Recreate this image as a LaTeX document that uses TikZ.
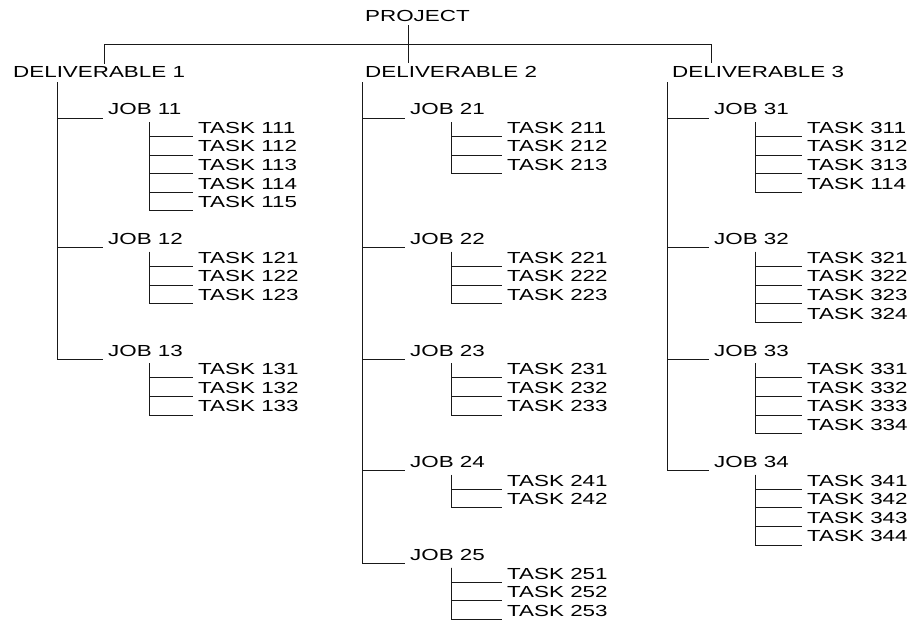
\documentclass[tikz,border=0pt]{standalone}
\usepackage{fontspec}
\usepackage{tikz}
\usetikzlibrary{calc}
\newfontfamily\wbsfont[FakeStretch=1.4]{Liberation Sans}

\begin{document}
\begin{tikzpicture}[x=1pt,y=-1pt,
lbl/.style={anchor=south west,inner xsep=5pt,inner ysep=3pt,text depth=0pt,font=\wbsfont\fontsize{16}{16}\selectfont},
wire/.style={line width=1pt,draw=black!90}
]
\useasboundingbox (0,0) rectangle (912,619);
% top level
\node[lbl] (proj) at (360,25) {PROJECT};
\node[lbl] (d1) at (8,81) {DELIVERABLE 1};
\node[lbl] (d2) at (360,81) {DELIVERABLE 2};
\node[lbl] (d3) at (667,81) {DELIVERABLE 3};
\coordinate (b1) at (104,44);
\coordinate (hub) at (408,44);
\coordinate (b3) at (711,44);
\draw[wire] (b1) -- (b3);
\draw[wire] (proj.south -| hub) -- (hub |- d2.north);
\draw[wire] (b1) -- (b1 |- d1.north);
\draw[wire] (b3) -- (b3 |- d3.north);
% trunks
\coordinate (s1) at (57,82);
\coordinate (s2) at (362,82);
\coordinate (s3) at (667,82);
% jobs and tasks
\foreach \j/\jx/\tx/\r/\tl in {11/103/193/0/{111,112,113,114,115},12/103/193/7/{121,122,123},13/103/193/13/{131,132,133},
21/405/502/0/{211,212,213},22/405/502/7/{221,222,223},23/405/502/13/{231,232,233},24/405/502/19/{241,242},25/405/502/24/{251,252,253},
31/709/802/0/{311,312,313,114},32/709/802/7/{321,322,323,324},33/709/802/13/{331,332,333,334},34/709/802/19/{341,342,343,344}}{
\node[lbl] (j\j) at (\jx,{118+18.57*\r}) {JOB \j};
\coordinate (v\j) at ($(j\j.south west)+(46,4)$);
\foreach \t [count=\k] in \tl{
\node[lbl] (t\j\k) at (\tx,{118+18.57*(\r+\k)}) {TASK \t};
\draw[wire] (v\j) |- (t\j\k.south west);
}
}
\foreach \s/\j in {1/11,1/12,1/13,2/21,2/22,2/23,2/24,2/25,3/31,3/32,3/33,3/34}
\draw[wire] (s\s) |- (j\j.south west);
\end{tikzpicture}
\end{document}
